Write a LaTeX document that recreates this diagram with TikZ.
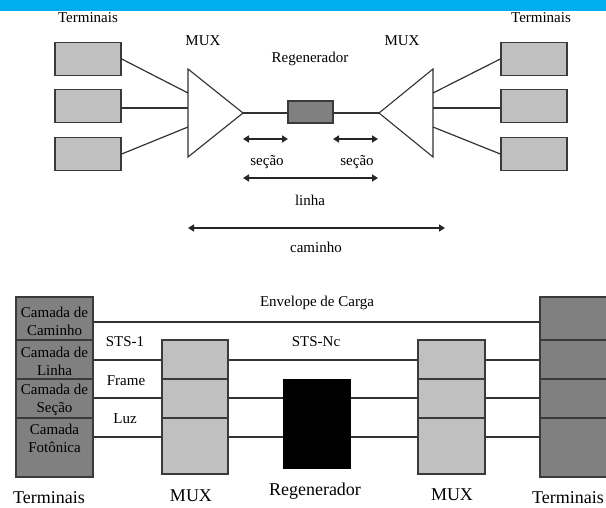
\documentclass[tikz,border=0pt]{standalone}
\usepackage{fontspec}
\setmainfont{Liberation Serif}
\usetikzlibrary{arrows.meta}
\definecolor{band}{RGB}{0,174,239}
\definecolor{lightbox}{RGB}{192,192,192}
\definecolor{darkbox}{RGB}{128,128,128}
\definecolor{edge}{RGB}{58,58,58}
\definecolor{wirecol}{RGB}{50,50,50}

\begin{document}
\begin{tikzpicture}[x=1pt,y=-1pt,
  lbl/.style={font=\fontsize{15}{18}\selectfont, inner sep=0pt, anchor=base},
  biglbl/.style={font=\fontsize{18}{21}\selectfont, inner sep=0pt, anchor=base},
  lay/.style={font=\fontsize{15}{18}\selectfont, inner sep=0pt, align=center},
  termbox/.style={draw=edge, line width=1.4pt, fill=lightbox, minimum width=66pt, minimum height=33pt, inner sep=0pt},
  regbox/.style={draw=edge, line width=1.4pt, fill=darkbox, minimum width=45pt, minimum height=22pt, inner sep=0pt},
  darkcell/.style={draw=edge, line width=1.4pt, fill=darkbox, inner sep=0pt},
  lightcell/.style={draw=edge, line width=1.4pt, fill=lightbox, inner sep=0pt},
  wire/.style={draw=wirecol, line width=1.2pt},
  span/.style={draw=black!85, line width=1.6pt, {Triangle[length=6pt,width=7pt]}-{Triangle[length=6pt,width=7pt]}},
  muxtri/.style={draw=wirecol, line width=1.1pt, fill=white, line join=miter}
]
\useasboundingbox (0,0) rectangle (606,508);
\clip (0,0) rectangle (606,508);

% title band
\fill[band] (0,0) rectangle (606,11);

% ---------- upper drawing: terminals, multiplexers, regenerator ----------
\node[lbl] (termL) at (88,23) {Terminais};
\node[lbl] (termR) at (541,23) {Terminais};
\node[lbl] (muxL) at (203,46) {MUX};
\node[lbl] (muxR) at (402,46) {MUX};
\node[lbl] (regT) at (310,63) {Regenerador};

\node[termbox] (tL1) at (88,59) {};
\node[termbox] (tL2) at (88,106) {};
\node[termbox] (tL3) at (88,154) {};
\node[termbox] (tR1) at (534,59) {};
\node[termbox] (tR2) at (534,106) {};
\node[termbox] (tR3) at (534,154) {};

% multiplexer triangles
\coordinate (aTop) at (188,69);
\coordinate (aBot) at (188,157);
\coordinate (aTip) at (243,113);
\coordinate (bTop) at (433,69);
\coordinate (bBot) at (433,157);
\coordinate (bTip) at (379,113);
\draw[muxtri] (aTop) -- (aTip) -- (aBot) -- cycle;
\draw[muxtri] (bTop) -- (bTip) -- (bBot) -- cycle;

% inputs on the triangle edges
\coordinate (aIn1) at (188,93);
\coordinate (aIn2) at (188,108);
\coordinate (aIn3) at (188,127);
\coordinate (bIn1) at (433,93);
\coordinate (bIn2) at (433,108);
\coordinate (bIn3) at (433,127);

\draw[wire] (tL1.east) -- (aIn1);
\draw[wire] (tL2.east |- aIn2) -- (aIn2);
\draw[wire] (tL3.east) -- (aIn3);
\draw[wire] (tR1.west) -- (bIn1);
\draw[wire] (tR2.west |- bIn2) -- (bIn2);
\draw[wire] (tR3.west) -- (bIn3);

\node[regbox] (reg) at (310.5,112) {};
\draw[wire] (aTip) -- (reg.west |- aTip);
\draw[wire] (reg.east |- bTip) -- (bTip);

% spans
\coordinate (s1a) at (243,139);
\coordinate (s1b) at (288,139);
\coordinate (s2a) at (333,139);
\coordinate (s2b) at (378,139);
\coordinate (l1a) at (243,178);
\coordinate (l1b) at (378,178);
\coordinate (c1a) at (188,228);
\coordinate (c1b) at (445,228);
\draw[span] (s1a) -- (s1b);
\draw[span] (s2a) -- (s2b);
\draw[span] (l1a) -- (l1b);
\draw[span] (c1a) -- (c1b);

\node[lbl] (secL) at (267,166) {seção};
\node[lbl] (secR) at (357,166) {seção};
\node[lbl] (lin) at (310,206) {linha};
\node[lbl] (cam) at (316,253) {caminho};

% ---------- lower drawing: layer stacks ----------
% left terminal stack
\node[darkcell, minimum width=77pt, minimum height=43pt] (L1) at (54.5,318.5) {};
\node[darkcell, minimum width=77pt, minimum height=39pt] (L2) at (54.5,359.5) {};
\node[darkcell, minimum width=77pt, minimum height=39pt] (L3) at (54.5,398.5) {};
\node[darkcell, minimum width=77pt, minimum height=59pt] (L4) at (54.5,447.5) {};
% right terminal stack
\node[darkcell, minimum width=72pt, minimum height=43pt] (R1) at (576,318.5) {};
\node[darkcell, minimum width=72pt, minimum height=39pt] (R2) at (576,359.5) {};
\node[darkcell, minimum width=72pt, minimum height=39pt] (R3) at (576,398.5) {};
\node[darkcell, minimum width=72pt, minimum height=59pt] (R4) at (576,447.5) {};
% multiplexers
\node[lightcell, minimum width=66pt, minimum height=39pt] (MA1) at (195,359.5) {};
\node[lightcell, minimum width=66pt, minimum height=39pt] (MA2) at (195,398.5) {};
\node[lightcell, minimum width=66pt, minimum height=56pt] (MA3) at (195,446) {};
\node[lightcell, minimum width=67pt, minimum height=39pt] (MB1) at (451.5,359.5) {};
\node[lightcell, minimum width=67pt, minimum height=39pt] (MB2) at (451.5,398.5) {};
\node[lightcell, minimum width=67pt, minimum height=56pt] (MB3) at (451.5,446) {};
% regenerator
\node[draw=black, fill=black, line width=1pt, minimum width=67pt, minimum height=89pt, inner sep=0pt] (RG) at (316.5,423.5) {};

% signal levels
\coordinate (lv1) at (0,322);
\coordinate (lv2) at (0,360);
\coordinate (lv3) at (0,398);
\coordinate (lv4) at (0,437);

\draw[wire] (L1.east |- lv1) -- (R1.west |- lv1);
\draw[wire] (L2.east |- lv2) -- (MA1.west |- lv2);
\draw[wire] (MA1.east |- lv2) -- (MB1.west |- lv2);
\draw[wire] (MB1.east |- lv2) -- (R2.west |- lv2);
\draw[wire] (L3.east |- lv3) -- (MA2.west |- lv3);
\draw[wire] (MA2.east |- lv3) -- (RG.west |- lv3);
\draw[wire] (RG.east |- lv3) -- (MB2.west |- lv3);
\draw[wire] (MB2.east |- lv3) -- (R3.west |- lv3);
\draw[wire] (L4.east |- lv4) -- (MA3.west |- lv4);
\draw[wire] (MA3.east |- lv4) -- (RG.west |- lv4);
\draw[wire] (RG.east |- lv4) -- (MB3.west |- lv4);
\draw[wire] (MB3.east |- lv4) -- (R4.west |- lv4);

% layer names
\node[lay] (n1) at (54.5,321) {Camada de\\Caminho};
\node[lay] (n2) at (54.5,361) {Camada de\\Linha};
\node[lay] (n3) at (54.5,400) {Camada de\\Seção};
\node[lay] (n4) at (54.5,438.5) {Camada\\Fotônica};

% level labels
\node[lbl] (env) at (317,307) {Envelope de Carga};
\node[lbl] (stsn) at (316,346) {STS-Nc};
\node[lbl] (sts1) at (125,346) {STS-1};
\node[lbl] (frm) at (126,385) {Frame};
\node[lbl] (luz) at (125,423) {Luz};

% equipment names
\node[biglbl] (bTermL) at (49,503) {Terminais};
\node[biglbl] (bMuxL) at (191,501) {MUX};
\node[biglbl] (bReg) at (315,495) {Regenerador};
\node[biglbl] (bMuxR) at (452,500) {MUX};
\node[biglbl] (bTermR) at (568,503) {Terminais};
\end{tikzpicture}
\end{document}
